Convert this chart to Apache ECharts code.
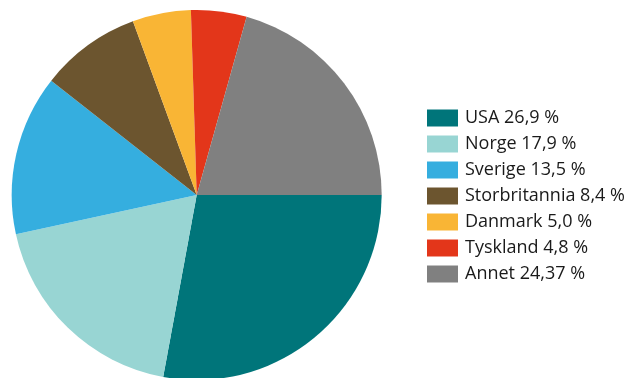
<!DOCTYPE html>
<html>
<head>
<meta charset="utf-8">
<script src="https://cdn.jsdelivr.net/npm/echarts@6/dist/echarts.min.js"></script>
<style>html,body{margin:0;padding:0;background:#fff;}#c{width:630px;height:378px;}</style>
</head>
<body>
<div id="c"></div>
<script>
// Categories, legend texts and slice shares
var categories = ["USA", "Norge", "Sverige", "Storbritannia", "Danmark", "Tyskland", "Annet"];
var legendLabels = ["USA 26,9 %", "Norge 17,9 %", "Sverige 13,5 %", "Storbritannia 8,4 %", "Danmark 5,0 %", "Tyskland 4,8 %", "Annet 24,37 %"];
var sliceValues = [27.9, 18.7, 14.0, 8.8, 5.1, 4.85, 20.65];
var colors = ["#00757A", "#98D5D3", "#35AEDF", "#6C552F", "#F9B535", "#E3361A", "#808080"];

var labelMap = {};
categories.forEach(function (c, i) { labelMap[c] = legendLabels[i]; });

var chart = echarts.init(document.getElementById('c'), null, {renderer: 'canvas'});
chart.setOption({
  animation: false,
  color: colors,
  legend: {
    orient: 'vertical',
    left: 422,
    top: 104,
    itemWidth: 31,
    itemHeight: 17,
    itemGap: 8,
    icon: 'rect',
    selectedMode: false,
    data: categories,
    formatter: function (n) { return labelMap[n]; },
    textStyle: { fontFamily: 'Open Sans', fontSize: 18, lineHeight: 17, color: '#1a1a1a', padding: [0, 0, 0, 2] }
  },
  series: [{
    type: 'pie',
    center: [196.7, 195],
    radius: 185,
    startAngle: 0,
    clockwise: true,
    label: { show: false },
    labelLine: { show: false },
    emphasis: { disabled: true },
    data: categories.map(function (c, i) { return { name: c, value: sliceValues[i] }; })
  }]
});
</script>
</body>
</html>
